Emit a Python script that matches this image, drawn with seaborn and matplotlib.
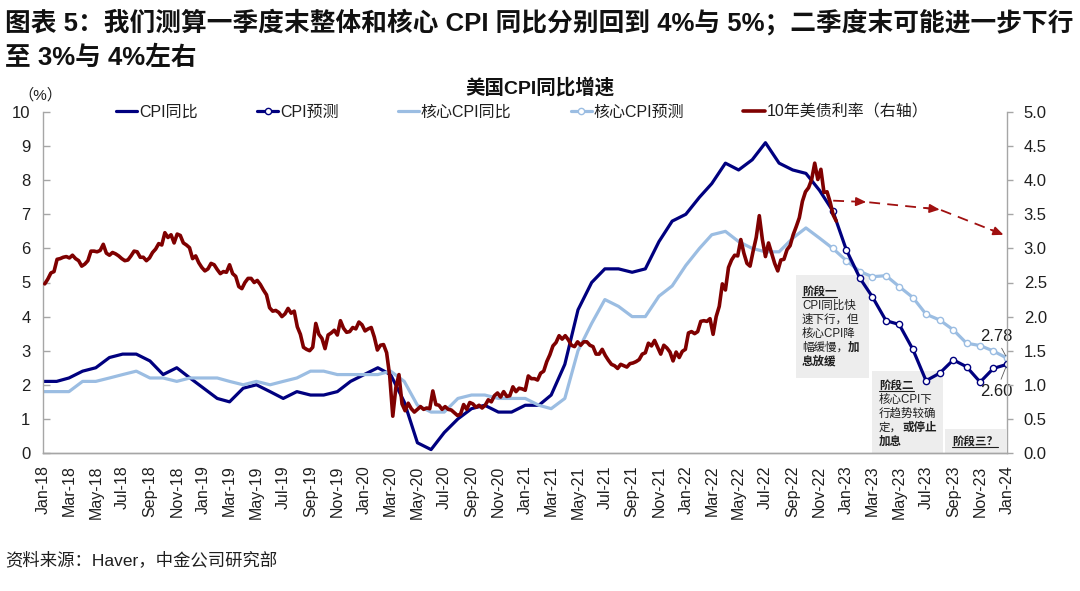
import numpy as np
import pandas as pd
import matplotlib
matplotlib.use("Agg")
import matplotlib.pyplot as plt
import seaborn as sns
from matplotlib.patches import Rectangle
from matplotlib.lines import Line2D

# ---------------- data ----------------
title_lines = ["图表 5：我们测算一季度末整体和核心 CPI 同比分别回到 4%与 5%；二季度末可能进一步下行",
               "至 3%与 4%左右"]
chart_title = "美国CPI同比增速"
unit_label = "（%）"
source_text = "资料来源：Haver，中金公司研究部"
legend_labels = ["CPI同比", "CPI预测", "核心CPI同比", "核心CPI预测", "10年美债利率（右轴）"]

# monthly YoY (%), Dec-2017 .. Nov-2022 (each plotted at start of following month)
cpi_first_month = "2017-12"
cpi_yoy = [2.1,
           2.1, 2.2, 2.4, 2.5, 2.8, 2.9, 2.9, 2.7, 2.3, 2.5, 2.2, 1.9,
           1.6, 1.5, 1.9, 2.0, 1.8, 1.6, 1.8, 1.7, 1.7, 1.8, 2.1, 2.3,
           2.5, 2.3, 1.5, 0.3, 0.1, 0.6, 1.0, 1.3, 1.4, 1.2, 1.2, 1.4,
           1.4, 1.7, 2.6, 4.2, 5.0, 5.4, 5.4, 5.3, 5.4, 6.2, 6.8, 7.0,
           7.5, 7.9, 8.5, 8.3, 8.6, 9.1, 8.5, 8.3, 8.2, 7.7, 7.1]
core_yoy = [1.8,
            1.8, 1.8, 2.1, 2.1, 2.2, 2.3, 2.4, 2.2, 2.2, 2.1, 2.2, 2.2,
            2.2, 2.1, 2.0, 2.1, 2.0, 2.1, 2.2, 2.4, 2.4, 2.3, 2.3, 2.3,
            2.3, 2.4, 2.1, 1.4, 1.2, 1.2, 1.6, 1.7, 1.7, 1.6, 1.6, 1.6,
            1.4, 1.3, 1.6, 3.0, 3.8, 4.5, 4.3, 4.0, 4.0, 4.6, 4.9, 5.5,
            6.0, 6.4, 6.5, 6.2, 6.0, 5.9, 5.9, 6.3, 6.6, 6.3, 6.0]

# forecasts, Nov-2022 .. Dec-2023
fc_first_month = "2022-11"
cpi_fc = [7.1, 5.95, 5.12, 4.58, 3.88, 3.77, 3.04, 2.12, 2.34, 2.73, 2.53, 2.08, 2.48, 2.60]
core_fc = [6.0, 5.64, 5.32, 5.17, 5.20, 4.88, 4.56, 4.07, 3.90, 3.61, 3.22, 3.15, 2.99, 2.78]

# 10Y Treasury yield (%), weekly (Fridays)
y10_2018 = [2.48, 2.55, 2.64, 2.66, 2.84, 2.85, 2.87, 2.88, 2.86, 2.90, 2.85, 2.82, 2.74,
            2.77, 2.82, 2.96, 2.96, 2.95, 2.97, 3.06, 2.93, 2.90, 2.94, 2.92, 2.89, 2.85,
            2.82, 2.83, 2.89, 2.96, 2.95, 2.87, 2.87, 2.82, 2.86, 2.94, 2.99, 3.07, 3.05,
            3.23, 3.16, 3.20, 3.08, 3.21, 3.19, 3.08, 3.05, 3.01, 2.85, 2.89, 2.79, 2.72]
y10_2019 = [2.67, 2.70, 2.78, 2.76, 2.69, 2.63, 2.66, 2.65, 2.76, 2.63, 2.59, 2.44, 2.41,
            2.50, 2.56, 2.56, 2.50, 2.53, 2.47, 2.39, 2.32, 2.13, 2.08, 2.09, 2.06, 2.00,
            2.04, 2.12, 2.05, 2.08, 1.85, 1.74, 1.55, 1.52, 1.50, 1.55, 1.90, 1.74, 1.68,
            1.53, 1.73, 1.76, 1.80, 1.73, 1.94, 1.83, 1.77, 1.78, 1.84, 1.82, 1.92, 1.88]
y10_2020 = [1.79, 1.82, 1.84, 1.70, 1.51, 1.58, 1.59, 1.47, 1.13, 0.54, 0.96, 1.15, 0.72,
            0.62, 0.73, 0.65, 0.60, 0.64, 0.68, 0.64, 0.66, 0.65, 0.91, 0.71, 0.70, 0.64,
            0.68, 0.64, 0.63, 0.59, 0.55, 0.57, 0.71, 0.64, 0.74, 0.72, 0.67, 0.70, 0.66,
            0.70, 0.78, 0.75, 0.84, 0.88, 0.82, 0.90, 0.83, 0.84, 0.97, 0.90, 0.95, 0.94]
y10_2021 = [0.92, 1.13, 1.09, 1.09, 1.07, 1.17, 1.20, 1.34, 1.44, 1.57, 1.62, 1.72, 1.67,
            1.72, 1.66, 1.58, 1.56, 1.63, 1.58, 1.63, 1.63, 1.58, 1.56, 1.45, 1.45, 1.52,
            1.43, 1.36, 1.30, 1.28, 1.24, 1.30, 1.28, 1.26, 1.31, 1.32, 1.34, 1.37, 1.45,
            1.47, 1.61, 1.57, 1.65, 1.55, 1.45, 1.58, 1.54, 1.48, 1.35, 1.48, 1.40, 1.49, 1.52]
y10_2022 = [1.76, 1.78, 1.75, 1.78, 1.93, 1.94, 1.93, 1.97, 1.74, 2.00, 2.15, 2.48,
            2.39, 2.72, 2.83, 2.90, 2.89, 3.13, 2.93, 2.78, 2.74, 2.96, 3.16, 3.48, 3.13,
            2.88, 3.08, 2.93, 2.78, 2.67, 2.83, 2.84, 2.98, 3.04, 3.20, 3.32, 3.45, 3.69, 3.83,
            3.89, 4.01, 4.25, 4.01, 4.16, 3.82, 3.83, 3.68, 3.49, 3.40]
y10_years = {2018: y10_2018, 2019: y10_2019, 2020: y10_2020, 2021: y10_2021, 2022: y10_2022}

# 10Y path (dashed arrows)
y10_fc_dates = ["2022-12-02", "2023-02-15", "2023-08-01", "2023-12-24"]
y10_fc = [3.70, 3.68, 3.57, 3.20]

end_labels = ["2.78", "2.60"]

# ---------------- build frames ----------------
def month_positions(first, n):
    return (pd.period_range(first, periods=n, freq="M") + 1).to_timestamp()

df_act = pd.DataFrame({"date": month_positions(cpi_first_month, len(cpi_yoy)),
                       "cpi": cpi_yoy, "core": core_yoy})
df_fc = pd.DataFrame({"date": month_positions(fc_first_month, len(cpi_fc)),
                      "cpi": cpi_fc, "core": core_fc})
y_dates, y_vals = [], []
for yr, vals in y10_years.items():
    y_dates.extend(pd.date_range(f"{yr}-01-01", periods=len(vals), freq="W-FRI"))
    y_vals.extend(vals)
df_y = pd.DataFrame({"date": y_dates, "y10": y_vals})
df_yfc = pd.DataFrame({"date": pd.to_datetime(y10_fc_dates), "y10": y10_fc})

# ---------------- style ----------------
sns.set_theme(style="white")
plt.rcParams["font.family"] = ["Liberation Sans", "Noto Sans CJK SC"]
plt.rcParams["axes.unicode_minus"] = False

NAVY = "#00007F"
LBLUE = "#9BBDE2"
MAROON = "#7F0000"
GRAY = "#A6A6A6"
TXT = "#1F1F1F"

W, H = 1080, 591
fig = plt.figure(figsize=(W / 100, H / 100), dpi=100)
fig.patch.set_facecolor("white")

def P(x, y):
    return (x / W, 1 - y / H)

ax = fig.add_axes([43 / W, 1 - 453 / H, (1007 - 43) / W, (453 - 112) / H])
ax2 = ax.twinx()

lw = 2.3
sns.lineplot(data=df_act, x="date", y="cpi", ax=ax, color=NAVY, lw=lw, label=legend_labels[0], legend=False)
h_cpi = ax.lines[-1]
sns.lineplot(data=df_act, x="date", y="core", ax=ax, color=LBLUE, lw=lw, label=legend_labels[2], legend=False)
h_core = ax.lines[-1]
sns.lineplot(data=df_fc, x="date", y="core", ax=ax, color=LBLUE, lw=lw, marker="o", markersize=4.5,
             markerfacecolor="white", markeredgecolor=LBLUE, markeredgewidth=1.0,
             label=legend_labels[3], legend=False)
h_core_fc = ax.lines[-1]
sns.lineplot(data=df_fc, x="date", y="cpi", ax=ax, color=NAVY, lw=lw, marker="o", markersize=4.5,
             markerfacecolor="white", markeredgecolor=NAVY, markeredgewidth=1.0,
             label=legend_labels[1], legend=False)
h_cpi_fc = ax.lines[-1]

sns.lineplot(data=df_y, x="date", y="y10", ax=ax2, color=MAROON, lw=2.6, label=legend_labels[4], legend=False)
h_y = ax2.lines[-1]
sns.lineplot(data=df_yfc, x="date", y="y10", ax=ax2, color="#A01010", lw=1.3, legend=False)
ax2.lines[-1].set_dashes([6, 4])
xs = list(df_yfc["date"])
vs = list(df_yfc["y10"])
for i in range(1, len(xs)):
    ax2.annotate("", xy=(xs[i], vs[i]), xytext=(xs[i - 1] + (xs[i] - xs[i - 1]) * 0.8,
                                                 vs[i - 1] + (vs[i] - vs[i - 1]) * 0.8),
                 arrowprops=dict(arrowstyle="-|>,head_length=0.5,head_width=0.22", color="#A01010",
                                 lw=1.2, shrinkA=0, shrinkB=0))

# axes limits & ticks
xticks = pd.date_range("2018-01-01", "2024-01-01", freq="2MS")
ax.set_xlim(pd.Timestamp("2018-01-01"), pd.Timestamp("2024-01-01"))
ax.set_ylim(0, 10)
ax2.set_ylim(0, 5)
ax.set_xticks(xticks)
ax.set_xticklabels([d.strftime("%b-%y") for d in xticks], rotation=90, fontsize=11.5, color=TXT)
ax.set_yticks(range(0, 11))
ax.set_yticklabels([str(v) for v in range(0, 11)], fontsize=12, color=TXT)
r_ticks = np.arange(0, 5.01, 0.5)
ax2.set_yticks(r_ticks)
ax2.set_yticklabels([f"{v:.1f}" for v in r_ticks], fontsize=12, color=TXT)
ax.set_xlabel("")
ax.set_ylabel("")
ax2.set_ylabel("")
ax.tick_params(axis="x", direction="out", length=5, width=1, color=GRAY, pad=4)
ax.tick_params(axis="y", direction="in", length=5, width=1, color=GRAY, pad=9, left=True)
ax2.tick_params(axis="y", direction="out", length=4, width=1, color=GRAY, pad=8, right=True)
for a in (ax, ax2):
    for s in a.spines.values():
        s.set_color(GRAY)
        s.set_linewidth(1.0)
    a.spines["top"].set_visible(False)
ax.spines["right"].set_visible(False)
ax2.spines["left"].set_visible(False)
ax.grid(False)
ax2.grid(False)

# legend
handles = [h_cpi, h_cpi_fc, h_core, h_core_fc, h_y]
leg = ax2.legend(handles, legend_labels, loc="center", bbox_to_anchor=(0.497, 1.0), ncol=5,
                 frameon=False, fontsize=11.5, handlelength=1.35, handletextpad=0.1,
                 columnspacing=3.7, numpoints=1)
for t in leg.get_texts():
    t.set_color(TXT)

# end labels
last = df_fc["date"].iloc[-1]
ax.annotate(end_labels[0], xy=(last, core_fc[-1]), xytext=(-11, 22), textcoords="offset pixels",
            ha="center", va="center", fontsize=12, color=TXT, annotation_clip=False,
            arrowprops=dict(arrowstyle="-", color="#595959", lw=0.6, shrinkA=1, shrinkB=2,
                            relpos=(0.6, 0.0)))
ax.annotate(end_labels[1], xy=(last, cpi_fc[-1]), xytext=(-11, -27), textcoords="offset pixels",
            ha="center", va="center", fontsize=12, color=TXT, annotation_clip=False,
            arrowprops=dict(arrowstyle="-", color="#595959", lw=0.6, shrinkA=1, shrinkB=2,
                            relpos=(0.6, 1.0)))

# phase boxes
BOXC = "#EDEDED"
boxes = [
    ((796, 275, 869, 378), 802, 291.5, [[("阶段一", True)], [("CPI同比快", False)], [("速下行，但", False)],
                                       [("核心CPI降", False)], [("幅缓慢，", False), ("加", True)],
                                       [("息放缓", True)]]),
    ((872, 371, 943, 454), 879, 385.5, [[("阶段二", True)], [("核心CPI下", False)], [("行趋势较确", False)],
                                       [("定，", False), ("或停止", True)], [("加息", True)]]),
    ((945, 429, 1006, 454), 952, 441.5, [[("阶段三？", True)]]),
]
underline_texts = []
for (x0, y0, x1, y1), tx, ty, lines in boxes:
    bl = P(x0, y1)
    rect = Rectangle(bl, (x1 - x0) / W, (y1 - y0) / H, transform=fig.transFigure,
                     facecolor=BOXC, edgecolor="none", zorder=0.5, clip_on=False)
    ax.add_patch(rect)
    for i, segs in enumerate(lines):
        yy = ty + 14 * i
        prev = None
        for s, b in segs:
            w = "bold" if b else "normal"
            if prev is None:
                prev = fig.text(*P(tx, yy), s, fontsize=8.3, fontweight=w, ha="left", va="center", color=TXT)
                if i == 0:
                    underline_texts.append(prev)
            else:
                prev = ax2.annotate(s, xy=(1, 0.5), xycoords=prev, ha="left", va="center", fontsize=8.3,
                                    fontweight=w, color=TXT, annotation_clip=False)

# titles and notes
fig.text(*P(5, 22), title_lines[0], fontsize=18.5, fontweight="bold", ha="left", va="center", color="#111111")
fig.text(*P(5, 58), title_lines[1], fontsize=18.5, fontweight="bold", ha="left", va="center", color="#111111")
fig.text(*P(540, 88), chart_title, fontsize=14, fontweight="bold", ha="center", va="center", color="#111111")
fig.text(*P(40, 95), unit_label, fontsize=11, ha="center", va="center", color=TXT)
fig.text(*P(5, 560), source_text, fontsize=12.5, ha="left", va="center", color=TXT)

# underlines for phase headings
fig.canvas.draw()
renderer = fig.canvas.get_renderer()
for t in underline_texts:
    bb = t.get_window_extent(renderer)
    yline = (bb.y0 + 1) / H
    fig.add_artist(Line2D([bb.x0 / W, bb.x1 / W], [yline, yline], transform=fig.transFigure,
                          color=TXT, lw=0.8))

fig.savefig("out.png", dpi=100, facecolor="white")
